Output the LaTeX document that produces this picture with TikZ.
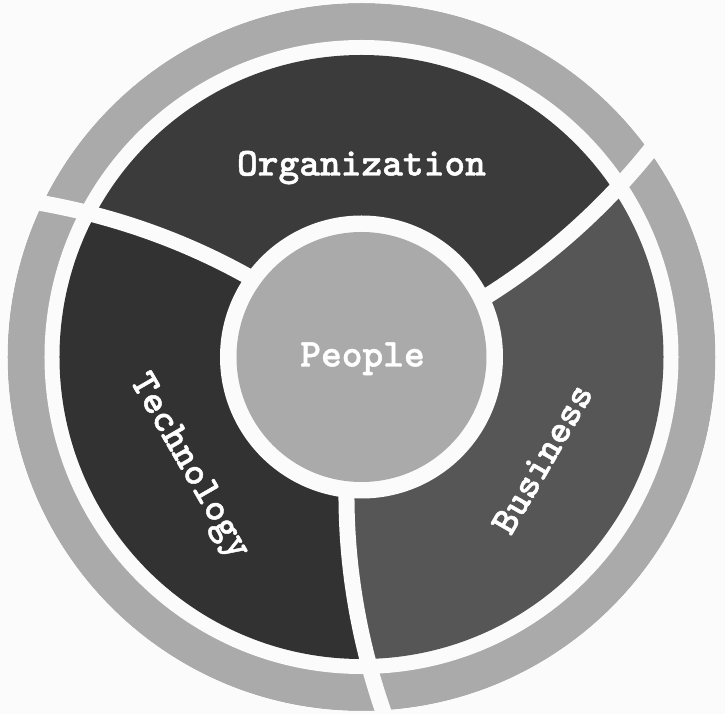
\documentclass[tikz,border=0pt]{standalone}
\usepackage{fontspec}
\newfontfamily\lblfont{lmmonolt10-bold.otf}[FakeBold=1.2]
\definecolor{ringgray}{HTML}{AAAAAA}
\definecolor{orgc}{HTML}{3B3B3B}
\definecolor{techc}{HTML}{323232}
\definecolor{busc}{HTML}{565656}
\definecolor{bgc}{HTML}{FBFBFB}
\newcommand{\kk}{0.045}
\tikzset{
  lbl/.style={text=white, font=\fontsize{39.5}{41}\selectfont\lblfont,
    text height=23pt, text depth=0pt, inner sep=0pt},
  divider/.style={draw=bgc, line width=16pt},
}
\begin{document}
\begin{tikzpicture}[x=1pt,y=1pt]
\fill[bgc] (-361.5,-357) rectangle (363.5,357);
\useasboundingbox (-361.5,-357) rectangle (363.5,357);
% outer ring
\fill[ringgray] (0,0) circle (354pt);
\fill[bgc] (0,0) circle (317pt);
% sectors
\begin{scope}
\clip (0,0) circle (302pt);
\fill[orgc] (0,0)
  -- plot[domain=0:420, samples=40, variable=\r] ({\r*cos(25.8+\kk*(\r-137))},{\r*sin(25.8+\kk*(\r-137))})
  arc[start angle=38.535, end angle=157.235, radius=420pt]
  -- plot[domain=420:0, samples=40, variable=\r] ({\r*cos(144.5+\kk*(\r-137))},{\r*sin(144.5+\kk*(\r-137))})
  -- cycle;
\fill[techc] (0,0)
  -- plot[domain=0:420, samples=40, variable=\r] ({\r*cos(144.5+\kk*(\r-137))},{\r*sin(144.5+\kk*(\r-137))})
  arc[start angle=157.235, end angle=276.435, radius=420pt]
  -- plot[domain=420:0, samples=40, variable=\r] ({\r*cos(263.7+\kk*(\r-137))},{\r*sin(263.7+\kk*(\r-137))})
  -- cycle;
\fill[busc] (0,0)
  -- plot[domain=0:420, samples=40, variable=\r] ({\r*cos(-96.3+\kk*(\r-137))},{\r*sin(-96.3+\kk*(\r-137))})
  arc[start angle=-83.565, end angle=38.535, radius=420pt]
  -- plot[domain=420:0, samples=40, variable=\r] ({\r*cos(25.8+\kk*(\r-137))},{\r*sin(25.8+\kk*(\r-137))})
  -- cycle;
\end{scope}
% dividers
\draw[divider] plot[domain=120:400, samples=40, variable=\r] ({\r*cos(25.8+\kk*(\r-137))},{\r*sin(25.8+\kk*(\r-137))});
\draw[divider] plot[domain=120:400, samples=40, variable=\r] ({\r*cos(144.5+\kk*(\r-137))},{\r*sin(144.5+\kk*(\r-137))});
\draw[divider] plot[domain=120:400, samples=40, variable=\r] ({\r*cos(-96.3+\kk*(\r-137))},{\r*sin(-96.3+\kk*(\r-137))});
% restore outside of ring
\draw[bgc, line width=20pt] (0,0) circle (364pt);
% centre
\fill[bgc] (0,0) circle (141.5pt);
\fill[ringgray] (0,0) circle (125pt);
% labels
\node[lbl] (org) at (0,193) {Organization};
\node[lbl] (ppl) at (1,2) {People};
\node[lbl, rotate=-60] (tech) at (-170,-108) {Technology};
\node[lbl, rotate=60] (bus) at (181,-102) {Business};
\end{tikzpicture}
\end{document}
